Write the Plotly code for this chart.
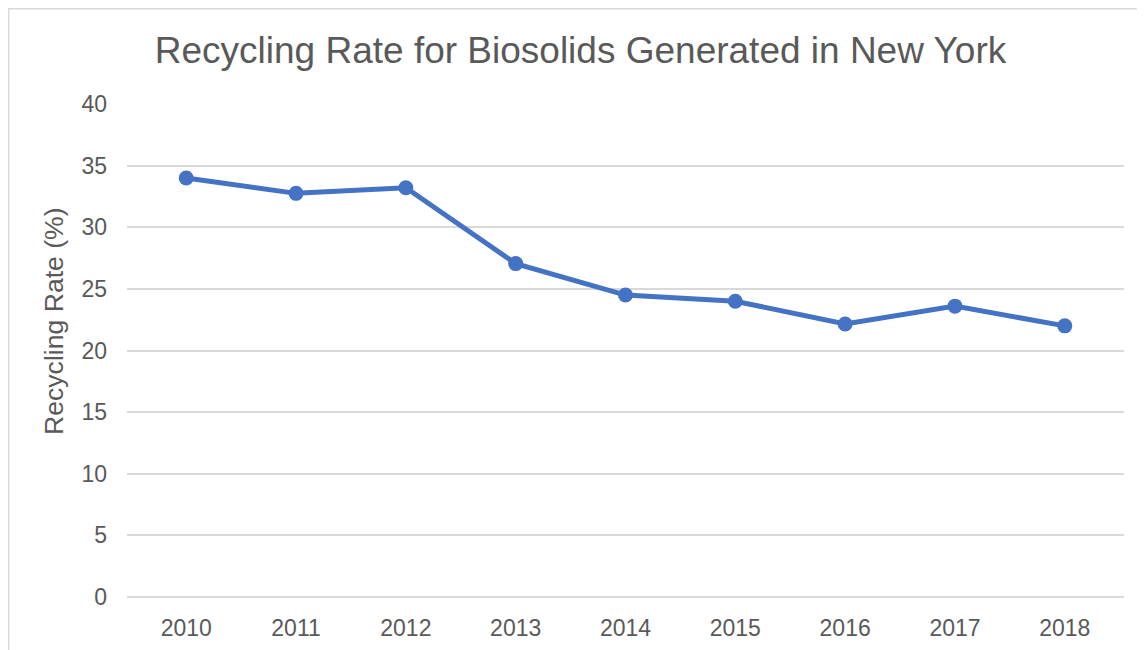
import plotly.graph_objects as go

years = ["2010", "2011", "2012", "2013", "2014", "2015", "2016", "2017", "2018"]
rates = [34.0, 32.75, 33.2, 27.05, 24.5, 24.0, 22.15, 23.6, 22.0]
y_ticks = [0, 5, 10, 15, 20, 25, 30, 35, 40]

TEXT = "#595959"
GRID = "#d9d9d9"
FONT = "Liberation Sans, Arial, sans-serif"

W, H = 1145, 650
ML, MR, MT, MB = 119, 29, 96, 61
PW, PH = W - ML - MR, H - MT - MB

fig = go.Figure()
fig.add_trace(go.Scatter(
    x=years, y=rates, mode="lines+markers",
    line=dict(color="#4472C4", width=5),
    marker=dict(color="#4472C4", size=15),
    showlegend=False, hoverinfo="x+y",
))

fig.update_layout(
    width=W, height=H,
    margin=dict(l=ML, r=MR, t=MT, b=MB),
    paper_bgcolor="white", plot_bgcolor="white",
    font=dict(family=FONT, color=TEXT, size=23),
    title=dict(text="Recycling Rate for Biosolids Generated in New York",
               x=0.5, xanchor="center", y=1 - 42 / H, yanchor="middle",
               xref="container", yref="container",
               font=dict(size=37, color=TEXT, family=FONT)),
    xaxis=dict(type="category", showgrid=False, showline=False, zeroline=False,
               ticks="", tickfont=dict(size=23, color=TEXT),
               ticklabelstandoff=15),
    yaxis=dict(range=[0, 40], tickvals=y_ticks, showgrid=True,
               gridcolor=GRID, gridwidth=1.5, zeroline=True,
               zerolinecolor=GRID, zerolinewidth=1.5,
               showline=False, ticks="", tickfont=dict(size=23, color=TEXT),
               ticklabelstandoff=19),
    annotations=[dict(text="Recycling Rate (%)", textangle=-90,
                      xref="paper", yref="paper",
                      x=(46 - ML) / PW, y=1 - (313 - MT) / PH,
                      xanchor="center", yanchor="middle", showarrow=False,
                      font=dict(size=26.6, color=TEXT, family=FONT))],
    shapes=[dict(type="rect", xref="paper", yref="paper",
                 x0=(-ML + 0.7) / PW, x1=1.2, y0=-0.3, y1=1 + (MT - 0.7) / PH,
                 line=dict(color=GRID, width=1.4), fillcolor="rgba(0,0,0,0)",
                 layer="below")],
)

fig.write_html("out.html")
